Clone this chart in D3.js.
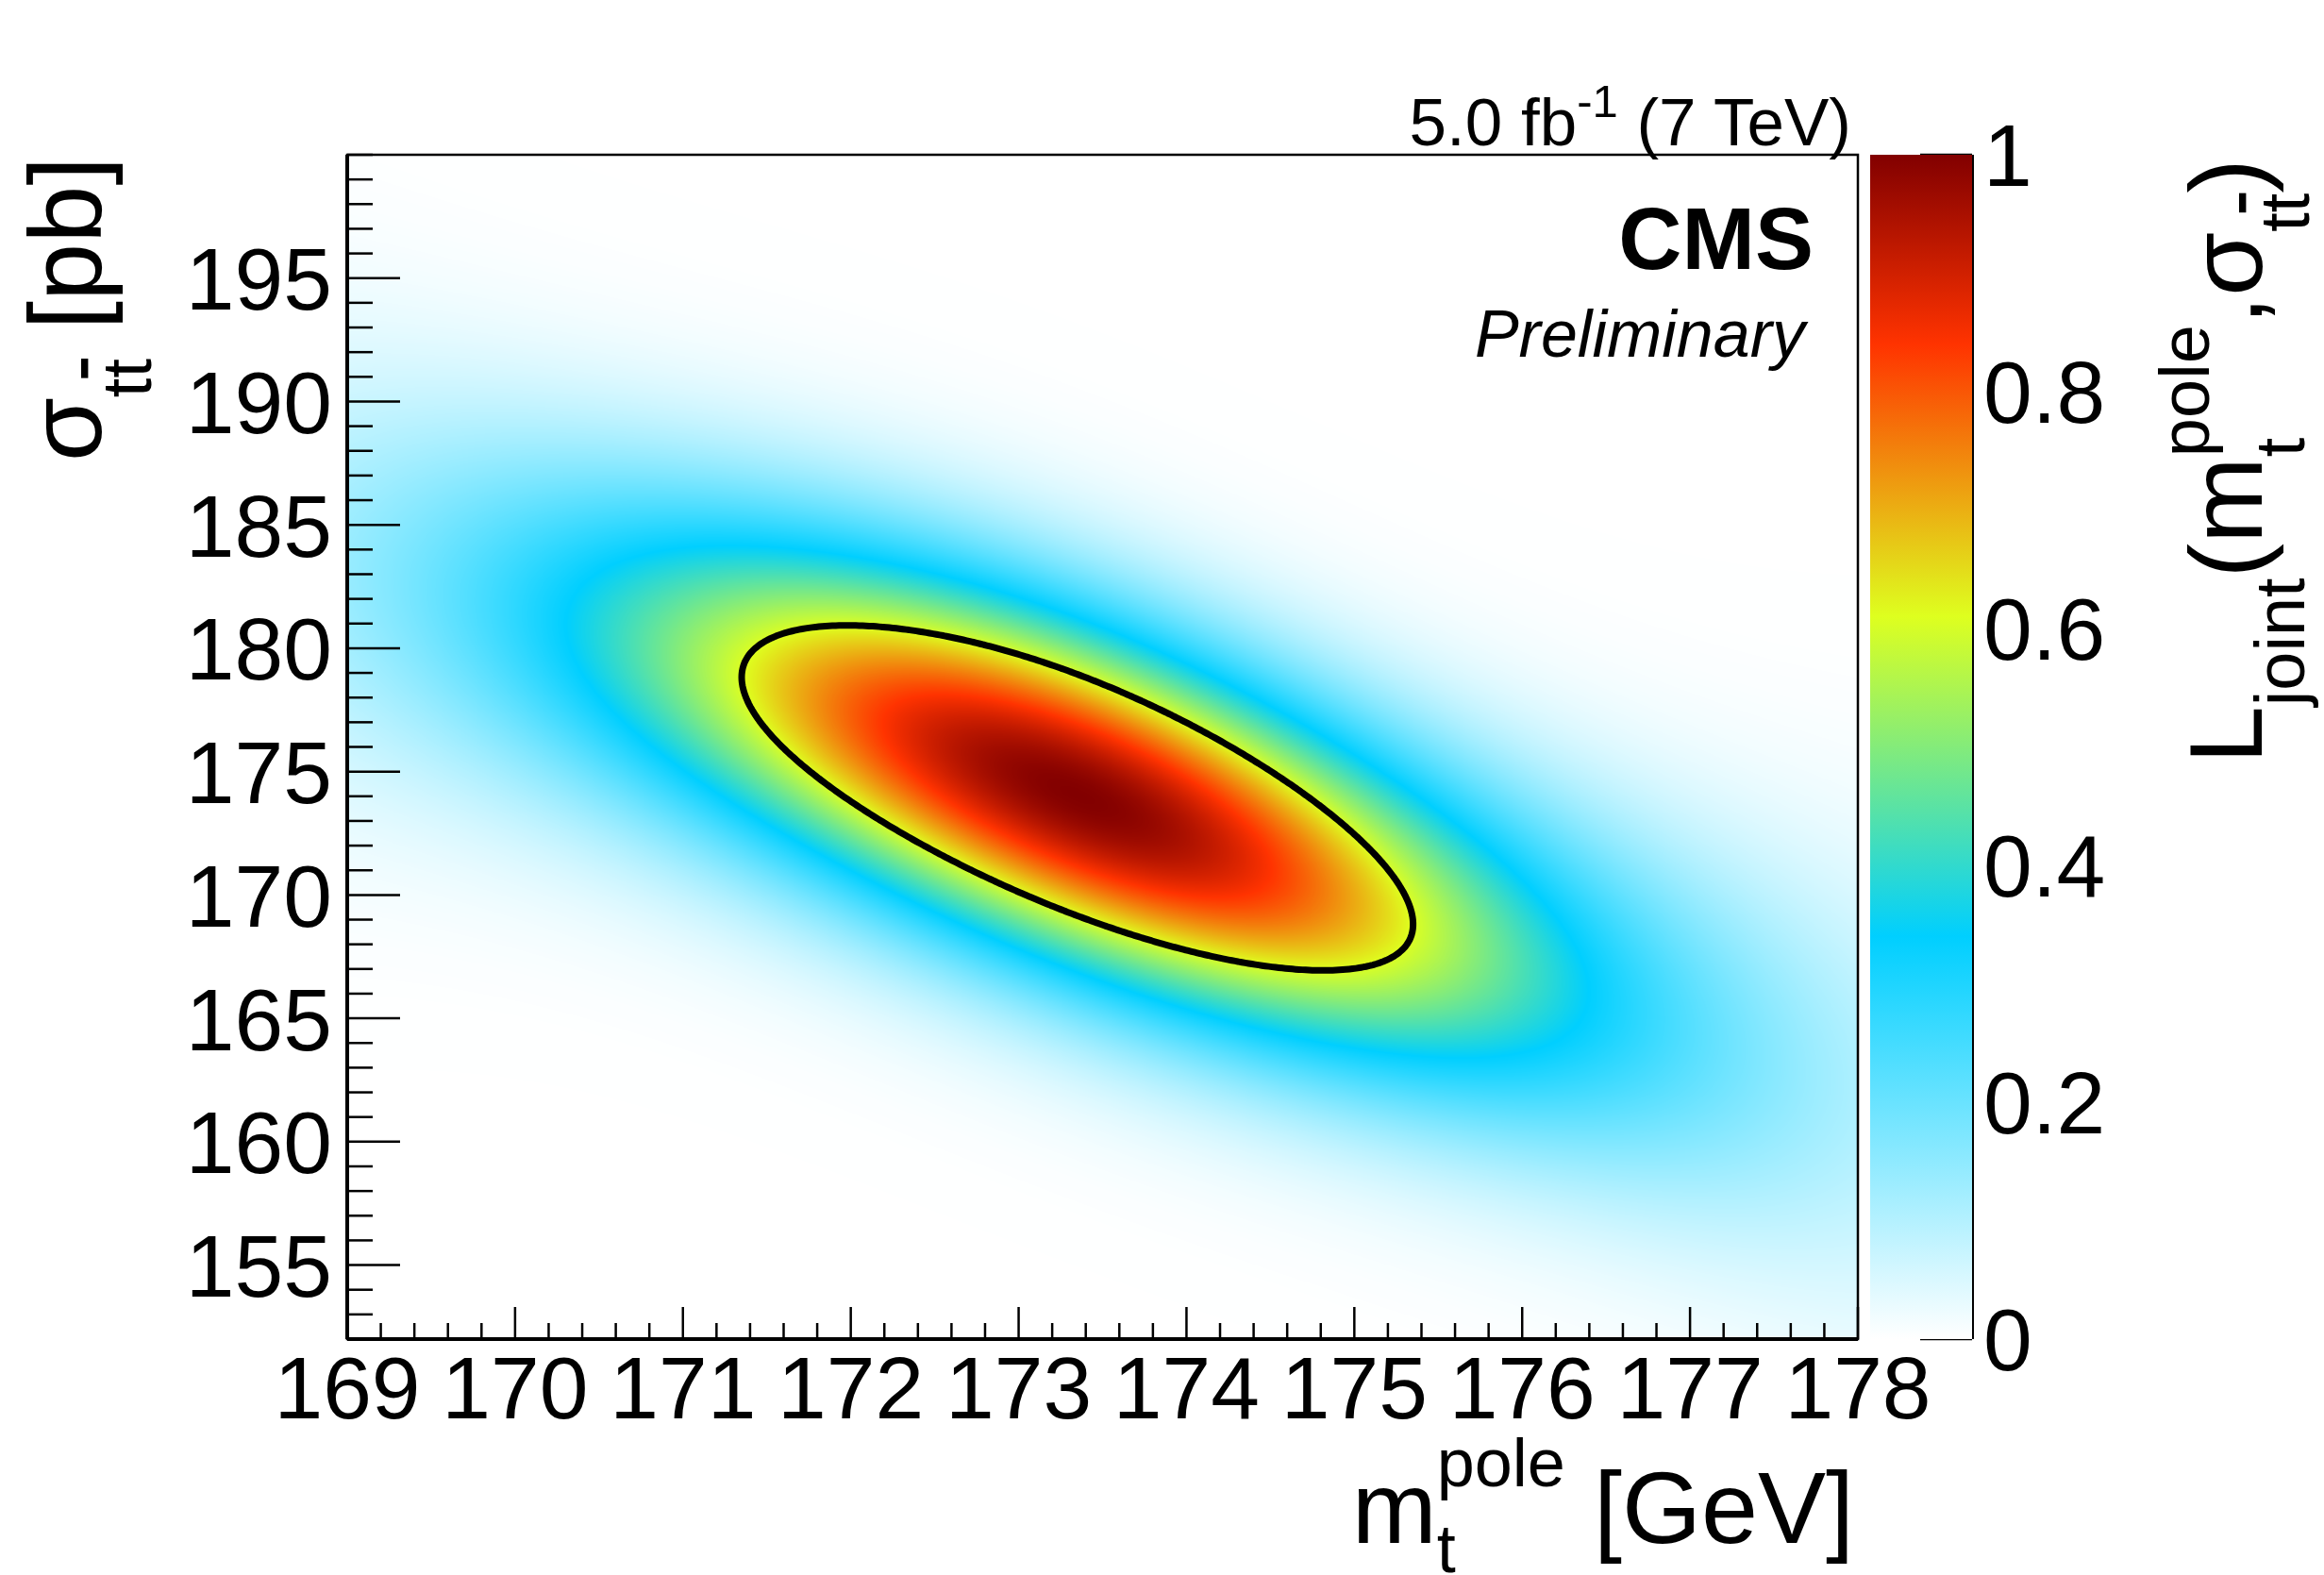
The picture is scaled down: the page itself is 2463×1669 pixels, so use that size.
<!DOCTYPE html>
<html>
<head>
<meta charset="utf-8">
<script src="https://cdn.jsdelivr.net/npm/d3@7"></script>
<style>
  html, body { margin: 0; padding: 0; background: #fff; }
  svg { display: block; }
  text { white-space: pre; }
</style>
</head>
<body>
<svg id="chart"></svg>
<script>
// values
const massTicks = [169, 170, 171, 172, 173, 174, 175, 176, 177, 178]
const xsecTicks = [155, 160, 165, 170, 175, 180, 185, 190, 195]
const zTicks = [0, 0.2, 0.4, 0.6, 0.8, 1]
const zTickLabels = ['0', '0.2', '0.4', '0.6', '0.8', '1']
const massRange = [169, 178]
const xsecRange = [152, 200]

// joint likelihood: best fit point, half widths of the 1 sigma contour,
// correlation, and the shape of the tails far from the best fit
const bestFit = [173.35, 174.05]
const oneSigma = [2.0, 6.95]
const correlation = [-0.71]
const tailScale = [3.6]          // slower fall-off along the mass direction
const tailWidening = [0.02]      // band gets wider far from the best fit
const ridgeBend = [-0.031, 0.0127] // quadratic and cubic bend of the ridge
const contourLevels = [0.6065]

// palette (white -> cyan -> yellow -> red -> dark red)
const paletteStops = [0, 0.34, 0.61, 0.84, 1]
const paletteColors = ['#ffffff', '#00cfff', '#deff1f', '#ff3300', '#820000']

const W = 2463
const H = 1669
const frame = {left: 368, right: 1969, top: 164, bottom: 1419}
const bar = {left: 1982, right: 2090}
const font = '"Liberation Sans", Arial, Helvetica, sans-serif'

const svg = d3.select('#chart')
  .attr('width', W)
  .attr('height', H)
  .attr('font-family', font)

svg.append('rect')
  .attr('width', W)
  .attr('height', H)
  .attr('fill', '#fff')

const x = d3.scaleLinear().domain(massRange).range([frame.left, frame.right])
const y = d3.scaleLinear().domain(xsecRange).range([frame.bottom, frame.top])
const z = d3.scaleLinear().domain([0, 1]).range([frame.bottom, frame.top])
const color = d3.scaleLinear()
  .domain(paletteStops)
  .range(paletteColors)
  .clamp(true)

function likelihood(m, s) {
  const a = tailScale[0]
  // mass offset where the tail term reaches 1 (edge of the 1 sigma contour)
  const uEdge = Math.sqrt(a * ((1 + 1 / (2 * a)) ** 2 - 1))
  const u = (m - bestFit[0]) / oneSigma[0] * uEdge
  const v = (s - bestFit[1]) / oneSigma[1]
  const r = correlation[0]
  const fu = 2 * a * (Math.sqrt(1 + u * u / a) - 1)
  const ridge = r * u + ridgeBend[0] * u * u + ridgeBend[1] * u * u * u
  const spread = (1 - r * r) * (1 + tailWidening[0] * u ** 4)
  const q = fu + (v - ridge) ** 2 / spread
  return Math.exp(-0.5 * q)
}

// heat map, one canvas pixel per screen pixel through the scales
const lut = d3.range(1024).map(i => d3.rgb(color(i / 1023)))
const pw = Math.round(frame.right - frame.left)
const ph = Math.round(frame.bottom - frame.top)
const canvas = document.createElement('canvas')
canvas.width = pw
canvas.height = ph
const ctx = canvas.getContext('2d')
const img = ctx.createImageData(pw, ph)
for (let j = 0; j < ph; j++) {
  const s = y.invert(frame.top + j + 0.5)
  for (let i = 0; i < pw; i++) {
    const m = x.invert(frame.left + i + 0.5)
    const c = lut[Math.round(Math.min(1, likelihood(m, s)) * 1023)]
    const k = (j * pw + i) * 4
    img.data[k] = c.r
    img.data[k + 1] = c.g
    img.data[k + 2] = c.b
    img.data[k + 3] = 255
  }
}
ctx.putImageData(img, 0, 0)

svg.append('image')
  .attr('x', frame.left)
  .attr('y', frame.top)
  .attr('width', pw)
  .attr('height', ph)
  .attr('preserveAspectRatio', 'none')
  .attr('href', canvas.toDataURL())

// 1 sigma contour
const nx = 450
const ny = 400
const dm = (massRange[1] - massRange[0]) / nx
const ds = (xsecRange[1] - xsecRange[0]) / ny
const grid = new Float64Array(nx * ny)
for (let j = 0; j < ny; j++) {
  for (let i = 0; i < nx; i++) {
    grid[j * nx + i] = likelihood(massRange[0] + (i + 0.5) * dm, xsecRange[0] + (j + 0.5) * ds)
  }
}
const contours = d3.contours().size([nx, ny]).thresholds(contourLevels)(grid)
const toScreen = d3.geoTransform({
  point(px, py) {
    this.stream.point(x(massRange[0] + px * dm), y(xsecRange[0] + py * ds))
  }
})
svg.append('g')
  .selectAll('path')
  .data(contours)
  .join('path')
  .attr('d', d3.geoPath(toScreen))
  .attr('fill', 'none')
  .attr('stroke', '#000')
  .attr('stroke-width', 7)
  .attr('stroke-linejoin', 'round')

// frame
svg.append('rect')
  .attr('x', frame.left)
  .attr('y', frame.top)
  .attr('width', frame.right - frame.left)
  .attr('height', frame.bottom - frame.top)
  .attr('fill', 'none')
  .attr('stroke', '#000')
  .attr('stroke-width', 2.5)

const axes = svg.append('g').attr('stroke', '#000')

// y axis
axes.append('line')
  .attr('x1', frame.left).attr('x2', frame.left)
  .attr('y1', frame.top).attr('y2', frame.bottom)
  .attr('stroke-width', 4)
axes.append('g')
  .selectAll('line')
  .data(y.ticks(48))
  .join('line')
  .attr('x1', frame.left)
  .attr('x2', d => frame.left + (xsecTicks.includes(d) ? 56 : 27))
  .attr('y1', d => y(d))
  .attr('y2', d => y(d))
  .attr('stroke-width', 2.5)

// x axis
axes.append('line')
  .attr('x1', frame.left).attr('x2', frame.right)
  .attr('y1', frame.bottom).attr('y2', frame.bottom)
  .attr('stroke-width', 4)
axes.append('g')
  .selectAll('line')
  .data(x.ticks(45))
  .join('line')
  .attr('x1', d => x(d))
  .attr('x2', d => x(d))
  .attr('y1', frame.bottom)
  .attr('y2', d => frame.bottom - (massTicks.some(t => Math.abs(t - d) < 1e-6) ? 34 : 17))
  .attr('stroke-width', 2.5)

svg.append('g')
  .selectAll('text')
  .data(xsecTicks)
  .join('text')
  .attr('x', 352)
  .attr('y', d => y(d))
  .attr('dy', '0.36em')
  .attr('text-anchor', 'end')
  .attr('font-size', 93)
  .text(d => d)

svg.append('g')
  .selectAll('text')
  .data(massTicks)
  .join('text')
  .attr('x', d => x(d))
  .attr('y', 1503)
  .attr('text-anchor', 'middle')
  .attr('font-size', 93)
  .text(d => d)

// colour bar
const grad = svg.append('defs')
  .append('linearGradient')
  .attr('id', 'palette')
  .attr('x1', 0).attr('x2', 0)
  .attr('y1', 1).attr('y2', 0)
grad.selectAll('stop')
  .data(paletteStops)
  .join('stop')
  .attr('offset', d => d)
  .attr('stop-color', (d, i) => paletteColors[i])

svg.append('rect')
  .attr('x', bar.left)
  .attr('y', z(1))
  .attr('width', bar.right - bar.left)
  .attr('height', z(0) - z(1))
  .attr('fill', 'url(#palette)')

axes.append('line')
  .attr('x1', bar.right).attr('x2', bar.right)
  .attr('y1', z(1)).attr('y2', z(0))
  .attr('stroke-width', 4)
axes.append('g')
  .selectAll('line')
  .data(zTicks)
  .join('line')
  .attr('x1', bar.right - 55)
  .attr('x2', bar.right)
  .attr('y1', d => z(d))
  .attr('y2', d => z(d))
  .attr('stroke-width', 2.5)

svg.append('g')
  .selectAll('text')
  .data(zTicks)
  .join('text')
  .attr('x', 2102)
  .attr('y', d => z(d))
  .attr('dy', '0.36em')
  .attr('font-size', 93)
  .text((d, i) => zTickLabels[i])

// rich text: pieces laid out one after another, sub/sup stacked
function richText(g, parts, opt) {
  let cx = 0
  parts.forEach(p => {
    if (p.text !== undefined) {
      const t = g.append('text')
        .attr('x', cx)
        .attr('font-size', opt.size)
        .text(p.text)
      cx += t.node().getComputedTextLength()
    } else {
      let w = 0
      if (p.sub) {
        const t = g.append('text')
          .attr('x', cx)
          .attr('y', p.subShift || opt.subShift)
          .attr('font-size', opt.small)
        p.sub.forEach(s => {
          t.append('tspan')
            .style('text-decoration', s.bar ? 'overline' : null)
            .text(s.t)
        })
        w = Math.max(w, t.node().getComputedTextLength())
      }
      if (p.sup) {
        const t = g.append('text')
          .attr('x', cx)
          .attr('y', -(p.supShift || opt.supShift))
          .attr('font-size', opt.small)
          .text(p.sup)
        w = Math.max(w, t.node().getComputedTextLength())
      }
      cx += w
    }
  })
  return cx
}

function anchorEnd(g, width, transform) {
  g.attr('transform', transform)
  g.selectAll('text').attr('x', function() { return +d3.select(this).attr('x') - width })
}

const ttbar = [{t: 't'}, {t: 't', bar: true}]

// x title
const xTitle = svg.append('g')
const xw = richText(xTitle, [
  {text: 'm'},
  {sub: [{t: 't'}], sup: 'pole'},
  {text: ' [GeV]'}
], {size: 108, small: 72, subShift: 31, supShift: 60})
anchorEnd(xTitle, xw, `translate(${frame.right - 4},1635)`)

// y title
const yTitle = svg.append('g')
const yw = richText(yTitle, [
  {text: 'σ'},
  {sub: ttbar},
  {text: ' [pb]'}
], {size: 110, small: 74, subShift: 53, supShift: 58})
anchorEnd(yTitle, yw, `translate(107,${frame.top + 2}) rotate(-90)`)

// z title
const zTitle = svg.append('g')
const zw = richText(zTitle, [
  {text: 'L'},
  {sub: [{t: 'joint'}]},
  {text: '(m'},
  {sub: [{t: 't'}], sup: 'pole'},
  {text: ',σ'},
  {sub: ttbar, subShift: 50},
  {text: ')'}
], {size: 110, small: 74, subShift: 45, supShift: 56})
anchorEnd(zTitle, zw, `translate(2397,${frame.top + 4}) rotate(-90)`)

// luminosity label
const lumi = svg.append('g')
const lw = richText(lumi, [
  {text: '5.0 fb'},
  {sup: '-1', supShift: 30},
  {text: ' (7 TeV)'}
], {size: 71, small: 49, subShift: 20, supShift: 30})
anchorEnd(lumi, lw, `translate(1962,154)`)

svg.append('text')
  .attr('x', 1922)
  .attr('y', 285)
  .attr('text-anchor', 'end')
  .attr('font-size', 93)
  .attr('font-weight', 'bold')
  .text('CMS')

svg.append('text')
  .attr('x', 1913)
  .attr('y', 378)
  .attr('text-anchor', 'end')
  .attr('font-size', 70)
  .attr('font-style', 'italic')
  .text('Preliminary')
</script>
</body>
</html>
